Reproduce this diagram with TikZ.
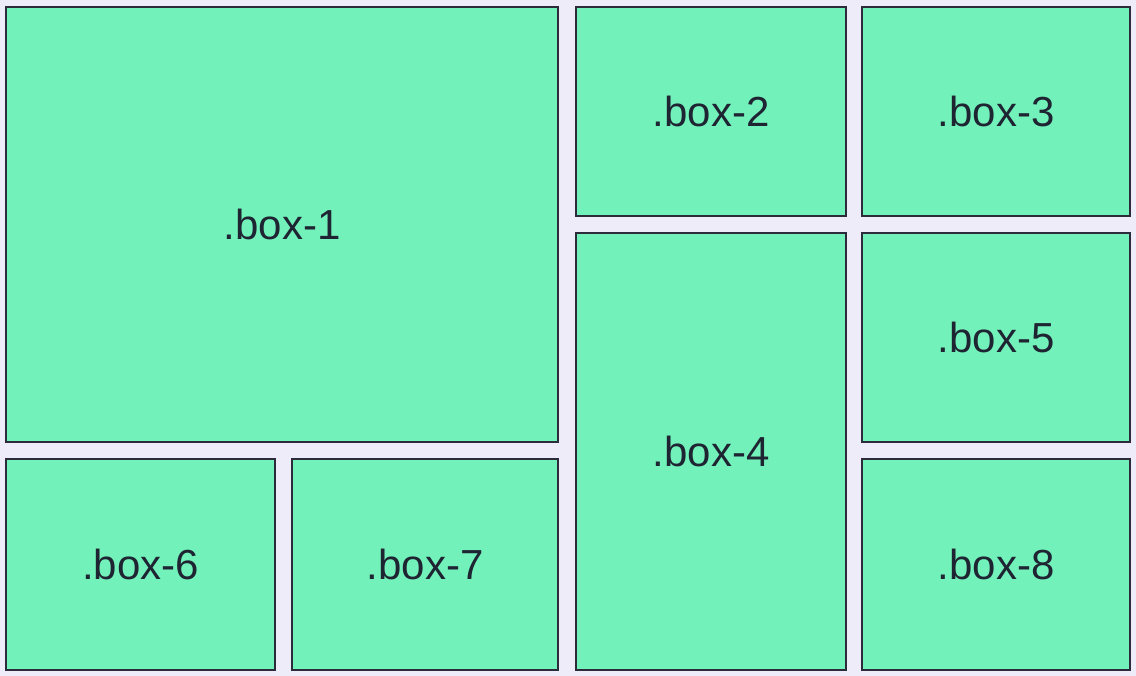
\documentclass[tikz,border=0pt]{standalone}
\usepackage{fontspec}
\setmainfont{Liberation Sans}
\definecolor{bgc}{HTML}{EFECF9}
\definecolor{boxfill}{HTML}{72F2BA}
\definecolor{boxline}{HTML}{2B2B3C}
\definecolor{txt}{HTML}{1F2433}
\begin{document}
\begin{tikzpicture}[x=1pt,y=-1pt,
  gridbox/.style={draw=boxline, fill=boxfill, line width=2pt, inner sep=0pt, outer sep=0pt,
    text=txt, font=\fontsize{42}{48}\selectfont}]
\fill[bgc] (0,0) rectangle (1136,676);
\useasboundingbox (0,0) rectangle (1136,676);
\node[gridbox, minimum width=552pt, minimum height=435pt] (b1) at (282,224.5) {.box-1};
\node[gridbox, minimum width=270pt, minimum height=209pt] (b2) at (711,111.5) {.box-2};
\node[gridbox, minimum width=268pt, minimum height=209pt] (b3) at (996,111.5) {.box-3};
\node[gridbox, minimum width=270pt, minimum height=437pt] (b4) at (711,451.5) {.box-4};
\node[gridbox, minimum width=268pt, minimum height=209pt] (b5) at (996,337.5) {.box-5};
\node[gridbox, minimum width=269pt, minimum height=211pt] (b6) at (140.5,564.5) {.box-6};
\node[gridbox, minimum width=266pt, minimum height=211pt] (b7) at (425,564.5) {.box-7};
\node[gridbox, minimum width=268pt, minimum height=211pt] (b8) at (996,564.5) {.box-8};
\end{tikzpicture}
\end{document}
